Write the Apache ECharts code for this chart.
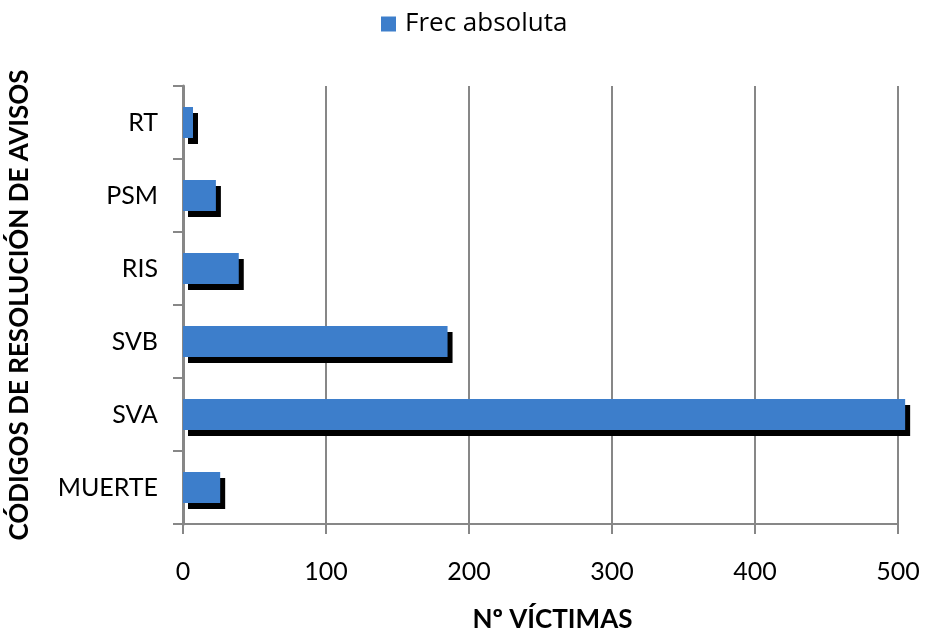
<!DOCTYPE html>
<html>
<head>
<meta charset="utf-8">
<script src="https://cdn.jsdelivr.net/npm/echarts@6/dist/echarts.min.js"></script>
<style>
  html, body { margin: 0; padding: 0; background: #fff; }
  #chart { width: 925px; height: 634px; }
</style>
</head>
<body>
<div id="chart"></div>
<script>
// categories from bottom to top
const categories = ['MUERTE', 'SVA', 'SVB', 'RIS', 'PSM', 'RT'];
const frecAbsoluta = [26, 505, 185, 39, 23, 7];
const seriesName = 'Frec absoluta';

const gridColor = '#878787';
const font = 'Lato';

let dom = document.getElementById('chart');
let myChart = echarts.init(dom, null, {renderer: 'canvas'});

let option = {
    animation: false,
    legend: {
        data: [seriesName],
        top: 11,
        left: 381,
        padding: 0,
        itemWidth: 15,
        itemHeight: 15,
        icon: 'rect',
        textStyle: {fontFamily: 'Open Sans', fontSize: 26, color: '#000', padding: [0, 0, 0, 4]}
    },
    grid: {
        left: 183,
        right: 27,
        top: 86,
        bottom: 110,
        outerBoundsMode: 'none'
    },
    xAxis: {
        type: 'value',
        min: 0,
        max: 500,
        interval: 100,
        name: 'Nº VÍCTIMAS',
        nameLocation: 'middle',
        nameGap: 83,
        nameTextStyle: {fontFamily: font, fontSize: 26, fontWeight: 'bold', color: '#000', padding: [0, 0, 0, 24]},
        axisLine: {show: true, lineStyle: {color: gridColor, width: 2}},
        axisTick: {show: true, length: 10, lineStyle: {color: gridColor, width: 2}},
        axisLabel: {fontFamily: font, fontSize: 25, color: '#000', margin: 35},
        splitLine: {show: true, lineStyle: {color: gridColor, width: 2}}
    },
    yAxis: {
        type: 'category',
        data: categories,
        name: 'CÓDIGOS DE RESOLUCIÓN DE AVISOS',
        nameLocation: 'middle',
        nameRotate: 90,
        nameGap: 150,
        nameTextStyle: {fontFamily: font, fontSize: 26, fontWeight: 'bold', color: '#000'},
        axisLine: {show: true, lineStyle: {color: gridColor, width: 3}},
        axisTick: {show: true, length: 10, lineStyle: {color: gridColor, width: 2}},
        axisLabel: {fontFamily: font, fontSize: 25, color: '#000', margin: 25}
    },
    series: [
        {
            name: seriesName,
            type: 'bar',
            data: frecAbsoluta,
            barWidth: 31,
            clip: false,
            itemStyle: {
                color: '#3d7ecb',
                shadowColor: '#000',
                shadowBlur: 0,
                shadowOffsetX: 5,
                shadowOffsetY: 6
            }
        }
    ]
};

myChart.setOption(option);
</script>
</body>
</html>
